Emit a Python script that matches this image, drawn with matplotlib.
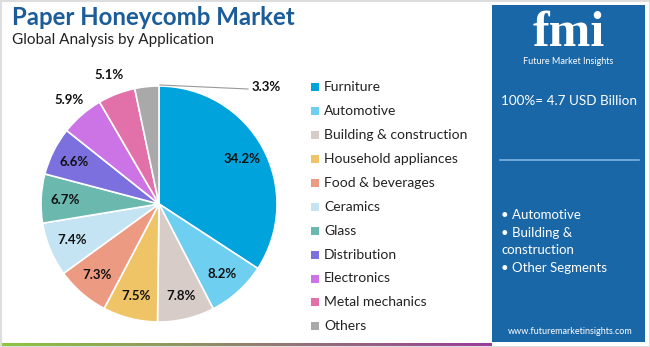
import numpy as np
import matplotlib.pyplot as plt
from matplotlib.patches import Rectangle

plt.rcParams['font.family'] = ['Lato', 'DejaVu Sans']

# segment shares (%), clockwise from 12 o'clock
segments = ['Furniture', 'Automotive', 'Building & construction', 'Household appliances',
            'Food & beverages', 'Ceramics', 'Glass', 'Distribution', 'Electronics',
            'Metal mechanics', 'Others']
shares = [34.2, 8.2, 7.8, 7.5, 7.3, 7.4, 6.7, 6.6, 5.9, 5.1, 3.3]
colors = ['#00a3dc', '#6fcff1', '#d8ccc9', '#efc466', '#ec9b82', '#c5e4f3',
          '#6ab8ae', '#7c70df', '#cc73e6', '#e171a8', '#a9a9a9']

market_size = '100%= 4.7 USD Billion'
highlights = ['• Automotive', '• Building &', 'construction', '• Other Segments']

W, H = 650, 347
fig = plt.figure(figsize=(W / 100, H / 100), dpi=100)
ax = fig.add_axes([0, 0, 1, 1])

cx, cy, r = 159, 143, 118
wedges, _ = ax.pie(shares, colors=colors, startangle=90, counterclock=False,
                   center=(cx, cy), radius=r,
                   wedgeprops=dict(edgecolor='white', linewidth=1.2))
ax.set_xlim(0, W)
ax.set_ylim(0, H)
ax.set_aspect('equal')
ax.axis('off')

# percentage labels
for i, (w, v) in enumerate(zip(wedges, shares)):
    ang = np.deg2rad((w.theta1 + w.theta2) / 2)
    if segments[i] == 'Others':
        x0, y0 = cx + 1, cy + r
        ax.plot([x0, 248], [y0 + 1, y0 - 3], color='#999999', lw=0.8)
        ax.text(252, y0 - 1, f'{v}%', ha='left', va='center',
                fontsize=9.5, fontweight='bold', color='#111111')
        continue
    k = 1.17 if segments[i] in ('Electronics', 'Metal mechanics') else 0.8
    ax.text(cx + k * r * np.cos(ang), cy + k * r * np.sin(ang), f'{v}%',
            ha='center', va='center', fontsize=9.5, fontweight='bold', color='#111111')

# legend
for i, (name, c) in enumerate(zip(segments, colors)):
    y = H - (87.3 + i * 23.9)
    ax.add_patch(Rectangle((311, y - 4), 8, 8, color=c, lw=0))
    ax.text(324, y, name, ha='left', va='center', fontsize=10, color='#222222')

# titles
ax.text(12, H - 17, 'Paper Honeycomb Market', ha='left', va='center',
        fontsize=17.3, fontweight='bold', color='#1b5c99')
ax.text(12, H - 40, 'Global Analysis by Application', ha='left', va='center',
        fontsize=11, color='#222222')

# side panel
ax.add_patch(Rectangle((492, 5), 153, 337, color='#1a67a8', lw=0))
ax.text(569, H - 34, 'fmi', ha='center', va='center', fontsize=36,
        fontweight='bold', family='Liberation Serif', color='white')
for yy in np.arange(H - 53, H - 16, 4):
    ax.plot([515, 625], [yy, yy], color='#1a67a8', lw=0.8)
ax.text(568, H - 61, 'Future Market Insights', ha='center', va='center',
        fontsize=6.5, color='white')
ax.text(569, H - 101, market_size, ha='center', va='center', fontsize=9.7, color='white')
ax.plot([500, 639], [H - 160, H - 160], color='#7db3e0', lw=1.2)
for i, t in enumerate(highlights):
    ax.text(501, H - (215 + i * 17.7), t, ha='left', va='center', fontsize=9.5, color='white')
ax.text(570, H - 332, 'www.futuremarketinsights.com', ha='center', va='center',
        fontsize=6.5, color='white')

# gradient strip along the bottom
grad = np.linspace(0, 1, 256).reshape(1, -1)
cmap = plt.matplotlib.colors.LinearSegmentedColormap.from_list('strip', ['#8cc63f', '#9a3b9a'])
ax.imshow(grad, cmap=cmap, extent=(0, 492, 0, 4), aspect='auto', zorder=0)
ax.set_xlim(0, W)
ax.set_ylim(0, H)

# outer frame
ax.add_patch(Rectangle((0.5, 0.5), W - 1, H - 1, fill=False, edgecolor='#dddddd', lw=1.5))

fig.savefig('out.png', dpi=100)
